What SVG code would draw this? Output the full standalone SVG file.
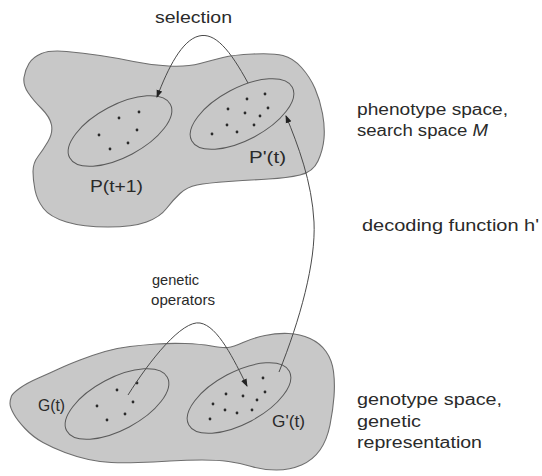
<svg xmlns="http://www.w3.org/2000/svg" width="542" height="476" viewBox="0 0 542 476">
<style>
.blob{fill:#c8c8c8;stroke:#6e6e6e;stroke-width:1.1}
.ell{fill:none;stroke:#5a5a5a;stroke-width:1}
.dot{fill:#2a2a2a}
.lbl{font-family:"Liberation Sans",Arial,sans-serif;font-size:16px;fill:#2a2a2a}
.sm{font-size:15px}
.conn{fill:none;stroke:#4a4a4a;stroke-width:1}
</style>
<defs>
<marker id="ah" markerUnits="userSpaceOnUse" markerWidth="9" markerHeight="7" refX="7" refY="3.5" orient="auto">
<path d="M0,0.5 L8,3.5 L0,6.5 z" fill="#222"/>
</marker>
</defs>
<rect width="542" height="476" fill="#fff"/>
<g id="phenotype-space">
<path class="blob" d="M29,63.5 Q33,57 41.5,53.5 Q50,50 66.5,51.5 Q83,53 100,55.5 Q117,58 133.5,61.5 Q150,65 168.5,66 Q187,67 200,63.5 Q213,60 223,57.5 Q233,55 253,54 Q273,53 283,55.5 Q293,58 301.5,67.5 Q310,77 315,88.5 Q320,100 322.5,113.5 Q325,127 324,138.5 Q323,150 318,161 Q313,172 300,175 Q287,178 268.5,179 Q250,180 228.5,181.5 Q207,183 197,185 Q187,187 180,193.5 Q173,200 166.5,208.5 Q160,217 146.5,222 Q133,227 108,227 Q83,227 66.5,222 Q50,217 43.5,208.5 Q37,200 35,190 Q33,180 33,171.5 Q33,163 38,156.5 Q43,150 48,141.5 Q53,133 51.5,125 Q50,117 41.5,108.5 Q33,100 28,92.5 Q23,85 24,77.5 Q25,70 29,63.5 Z"/>
</g>
<g id="genotype-space">
<path class="blob" d="M11.5,396 Q13,393 20,388 Q27,383 38.5,378 Q50,373 58.5,369 Q67,365 80,360 Q93,355 105,351.5 Q117,348 130,346.5 Q143,345 156.5,344 Q170,343 185,343.5 Q200,344 211.5,346 Q223,348 228,347.5 Q233,347 243,342.5 Q253,338 265,335.5 Q277,333 288.5,333.5 Q300,334 310,338.5 Q320,343 326,351.5 Q332,360 333.5,371.5 Q335,383 334,396.5 Q333,410 330,425 Q327,440 320,450 Q313,460 301.5,465 Q290,470 276.5,470 Q263,470 251.5,466.5 Q240,463 228.5,461.5 Q217,460 202,460 Q187,460 170,461 Q153,462 138,462.5 Q123,463 111.5,462.5 Q100,462 88.5,459.5 Q77,457 65,452.5 Q53,448 43,442.5 Q33,437 25,428.5 Q17,420 13.5,413.5 Q10,407 10,403.5 Q10,400 11.5,396 Z"/>
</g>
<g id="P-t1">
<ellipse class="ell" cx="120" cy="131" rx="57" ry="26" transform="rotate(-28 120 131)"/>
<circle class="dot" cx="119" cy="118" r="1.4"/><circle class="dot" cx="139" cy="112" r="1.4"/><circle class="dot" cx="99" cy="135" r="1.4"/><circle class="dot" cx="137" cy="130" r="1.4"/><circle class="dot" cx="110" cy="149" r="1.4"/><circle class="dot" cx="128" cy="143" r="1.4"/>
<text class="lbl" x="90" y="192" textLength="53" lengthAdjust="spacingAndGlyphs">P(t+1)</text>
</g>
<g id="P-prime-t">
<ellipse class="ell" cx="242" cy="114" rx="57" ry="26" transform="rotate(-28 242 114)"/>
<circle class="dot" cx="265" cy="94" r="1.4"/><circle class="dot" cx="247" cy="99" r="1.4"/><circle class="dot" cx="228" cy="109" r="1.4"/><circle class="dot" cx="245" cy="113" r="1.4"/><circle class="dot" cx="268" cy="108" r="1.4"/><circle class="dot" cx="260" cy="116" r="1.4"/><circle class="dot" cx="227" cy="125" r="1.4"/><circle class="dot" cx="254" cy="125" r="1.4"/><circle class="dot" cx="237" cy="132" r="1.4"/><circle class="dot" cx="212" cy="134" r="1.4"/>
<text class="lbl" x="249" y="163" textLength="37" lengthAdjust="spacingAndGlyphs">P'(t)</text>
</g>
<g id="G-t">
<ellipse class="ell" cx="117" cy="404" rx="57" ry="26" transform="rotate(-28 117 404)"/>
<circle class="dot" cx="117" cy="390" r="1.4"/><circle class="dot" cx="137" cy="383" r="1.4"/><circle class="dot" cx="97" cy="406" r="1.4"/><circle class="dot" cx="133" cy="402" r="1.4"/><circle class="dot" cx="125" cy="414" r="1.4"/><circle class="dot" cx="107" cy="420" r="1.4"/>
<text class="lbl" x="38" y="411" textLength="27" lengthAdjust="spacingAndGlyphs">G(t)</text>
</g>
<g id="G-prime-t">
<ellipse class="ell" cx="239" cy="398" rx="57" ry="26" transform="rotate(-28 239 398)"/>
<circle class="dot" cx="263" cy="378" r="1.4"/><circle class="dot" cx="265" cy="392" r="1.4"/><circle class="dot" cx="226" cy="394" r="1.4"/><circle class="dot" cx="243" cy="396" r="1.4"/><circle class="dot" cx="257" cy="400" r="1.4"/><circle class="dot" cx="213" cy="404" r="1.4"/><circle class="dot" cx="225" cy="410" r="1.4"/><circle class="dot" cx="237" cy="413" r="1.4"/><circle class="dot" cx="252" cy="410" r="1.4"/><circle class="dot" cx="210" cy="419" r="1.4"/>
<text class="lbl" x="272" y="427" textLength="33" lengthAdjust="spacingAndGlyphs">G'(t)</text>
</g>
<g id="connectors">
<path class="conn" marker-end="url(#ah)" d="M248,83 C230,50 215,32 199,36 C182,40 168,68 157,97"/>
<path class="conn" marker-end="url(#ah)" d="M279,372 C300,320 316,262 314,222 C312,182 298,145 286,116"/>
<path class="conn" marker-end="url(#ah)" d="M128,395 C150,360 182,320 200,323 C218,326 234,360 247,386"/>
</g>
<g id="labels">
<text class="lbl" x="155" y="23" textLength="77" lengthAdjust="spacingAndGlyphs">selection</text>
<text class="lbl sm" x="152" y="285" textLength="47" lengthAdjust="spacingAndGlyphs">genetic</text>
<text class="lbl sm" x="151" y="305" textLength="64" lengthAdjust="spacingAndGlyphs">operators</text>
<text class="lbl" x="357" y="115" textLength="151" lengthAdjust="spacingAndGlyphs">phenotype space,</text>
<text class="lbl" x="357" y="136" textLength="131" lengthAdjust="spacingAndGlyphs">search space <tspan font-style="italic">M</tspan></text>
<text class="lbl" x="362" y="231" textLength="177" lengthAdjust="spacingAndGlyphs">decoding function h'</text>
<text class="lbl" x="357" y="405" textLength="145" lengthAdjust="spacingAndGlyphs">genotype space,</text>
<text class="lbl" x="357" y="427" textLength="64" lengthAdjust="spacingAndGlyphs">genetic</text>
<text class="lbl" x="357" y="448" textLength="125" lengthAdjust="spacingAndGlyphs">representation</text>
</g>
</svg>
